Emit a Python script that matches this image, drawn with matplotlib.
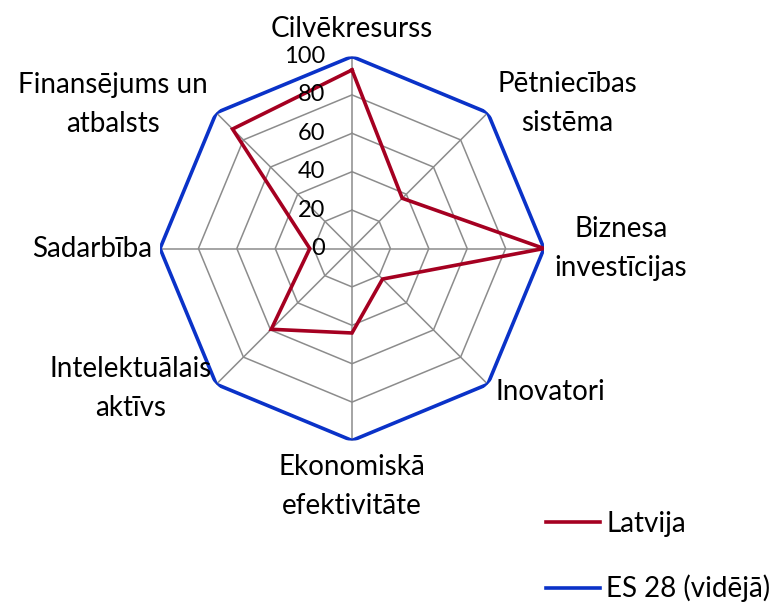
import matplotlib
matplotlib.use("Agg")
import matplotlib.pyplot as plt
import matplotlib.transforms as mtransforms
import numpy as np

plt.rcParams['font.family'] = ['Lato', 'DejaVu Sans']

# categories (clockwise from top)
categories = ["Cilvēkresurss", "Pētniecības\nsistēma", "Biznesa\ninvestīcijas", "Inovatori",
              "Ekonomiskā\nefektivitāte", "Intelektuālais\naktīvs", "Sadarbība",
              "Finansējums un\natbalsts"]
latvija = [93, 37, 100, 22.5, 44, 59.5, 22, 88]
es28 = [100, 100, 100, 100, 100, 100, 100, 100]
ticks = [0, 20, 40, 60, 80, 100]

red = "#A50021"
blue = "#0A32C8"
grey = "#8C8C8C"
fs = 20
fs_tick = 17

fig = plt.figure(figsize=(7.84, 6.05), dpi=100)
ax = fig.add_axes([0.2041, 0.2719, 0.4898, 0.6347], projection="polar")
ax.set_theta_zero_location("N")
ax.set_theta_direction(-1)
ax.set_ylim(0, 100)
ax.grid(False)
ax.spines["polar"].set_visible(False)
ax.set_xticks([])
ax.set_yticks([])
ax.patch.set_visible(False)

n = len(categories)
theta = np.arange(n) * 2 * np.pi / n
theta_c = np.append(theta, theta[0])

# octagon grid
for t in ticks[1:]:
    ax.plot(theta_c, [t] * (n + 1), color=grey, lw=1.1, zorder=1)
for th in theta:
    ax.plot([th, th], [0, 100], color=grey, lw=1.1, zorder=1)

# series
ax.plot(theta_c, es28 + es28[:1], color=blue, lw=2.6, zorder=3, label="ES 28 (vidējā)",
        solid_joinstyle="miter")
ax.plot(theta_c, latvija + latvija[:1], color=red, lw=2.6, zorder=4, label="Latvija",
        solid_joinstyle="miter")

# value labels on the top axis
off = mtransforms.offset_copy(ax.transData, fig=fig, x=-27, y=0, units="dots")
for t in ticks:
    ax.text(0, t, str(t), transform=off, ha="right", va="center", fontsize=fs_tick, zorder=5)

# category labels
lab_pos = [
    (110, "center", "baseline"),
    (107, "left", "center"),
    (105.5, "left", "center"),
    (105.5, "left", "center"),
    (107, "center", "top"),
    (103, "right", "center"),
    (104, "right", "center"),
    (106, "right", "center"),
]
for th, cat, (r, ha, va) in zip(theta, categories, lab_pos):
    ax.text(th, r, cat, ha=ha, va=va, multialignment="center", fontsize=fs,
            linespacing=1.6, clip_on=False)

h, l = ax.get_legend_handles_labels()
fig.legend(h[::-1], l[::-1], loc="upper left", bbox_to_anchor=(546 / 784, 1 - 511 / 605),
           frameon=False, fontsize=fs, handlelength=1.95, handletextpad=0.22,
           labelspacing=1.36, borderpad=0, borderaxespad=0)

fig.savefig("out.png", dpi=100)
